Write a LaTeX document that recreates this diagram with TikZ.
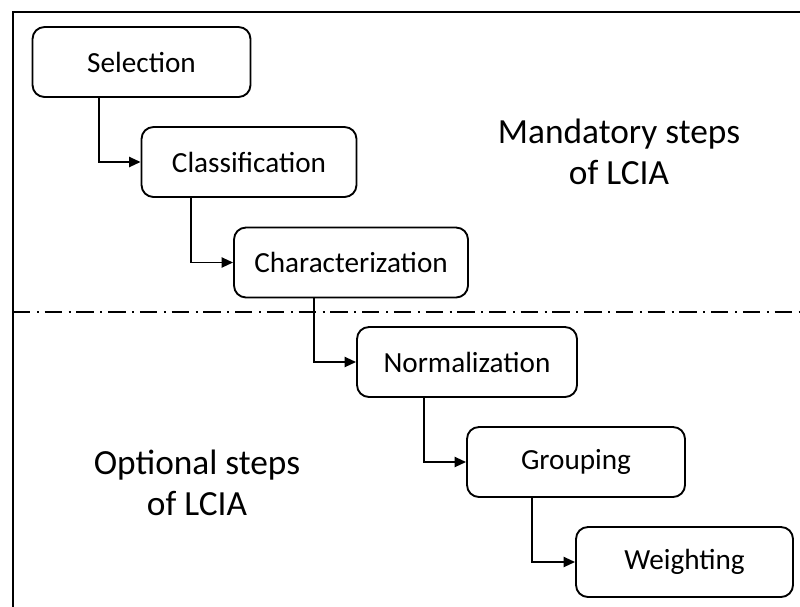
\documentclass[tikz,border=0pt]{standalone}
\usepackage{fontspec}
\setmainfont{Carlito}
\usetikzlibrary{arrows.meta}
\begin{document}
\begin{tikzpicture}[x=0.75pt,y=-0.75pt,
  stepbox/.style={draw,line width=1.4pt,rounded corners=9pt,minimum height=52.5pt,
    inner sep=0pt,font=\fontsize{21.9}{24}\selectfont},
  link/.style={line width=1.4pt,-{Triangle[length=8.5pt,width=7.5pt]}},
  bigtext/.style={align=center,font=\fontsize{26.5}{30.75}\selectfont}]
\useasboundingbox (0,0) rectangle (800,607);
% frame
\draw[line width=1.4pt] (13,607) -- (13,12) -- (800,12);
% divider between mandatory and optional steps
\draw[line width=1.4pt,dash pattern=on 13pt off 5pt on 1.5pt off 4.3pt] (13,312) -- (800,312);
% steps
\node[stepbox,minimum width=163.5pt] (sel) at (141.5,62) {Selection};
\node[stepbox,minimum width=161.25pt] (cls) at (249,162) {Classification};
\node[stepbox,minimum width=175.5pt] (chr) at (351,262.5) {Characterization};
\node[stepbox,minimum width=165pt] (nrm) at (467,362) {Normalization};
\node[stepbox,minimum width=163.5pt] (grp) at (576,462) {Grouping};
\node[stepbox,minimum width=162.75pt] (wgt) at (684.5,562) {Weighting};
% connectors
\draw[link] ([xshift=50.25pt]sel.south west) |- (cls.west);
\draw[link] ([xshift=37.5pt]cls.south west) |- (chr.west);
\draw[link] ([xshift=60.75pt]chr.south west) |- (nrm.west);
\draw[link] ([xshift=51pt]nrm.south west) |- (grp.west);
\draw[link] ([xshift=49.5pt]grp.south west) |- (wgt.west);
% labels
\node[bigtext] (mand) at (619,152) {Mandatory steps\\of LCIA};
\node[bigtext] (opt) at (197,483) {Optional steps\\of LCIA};
\end{tikzpicture}
\end{document}
